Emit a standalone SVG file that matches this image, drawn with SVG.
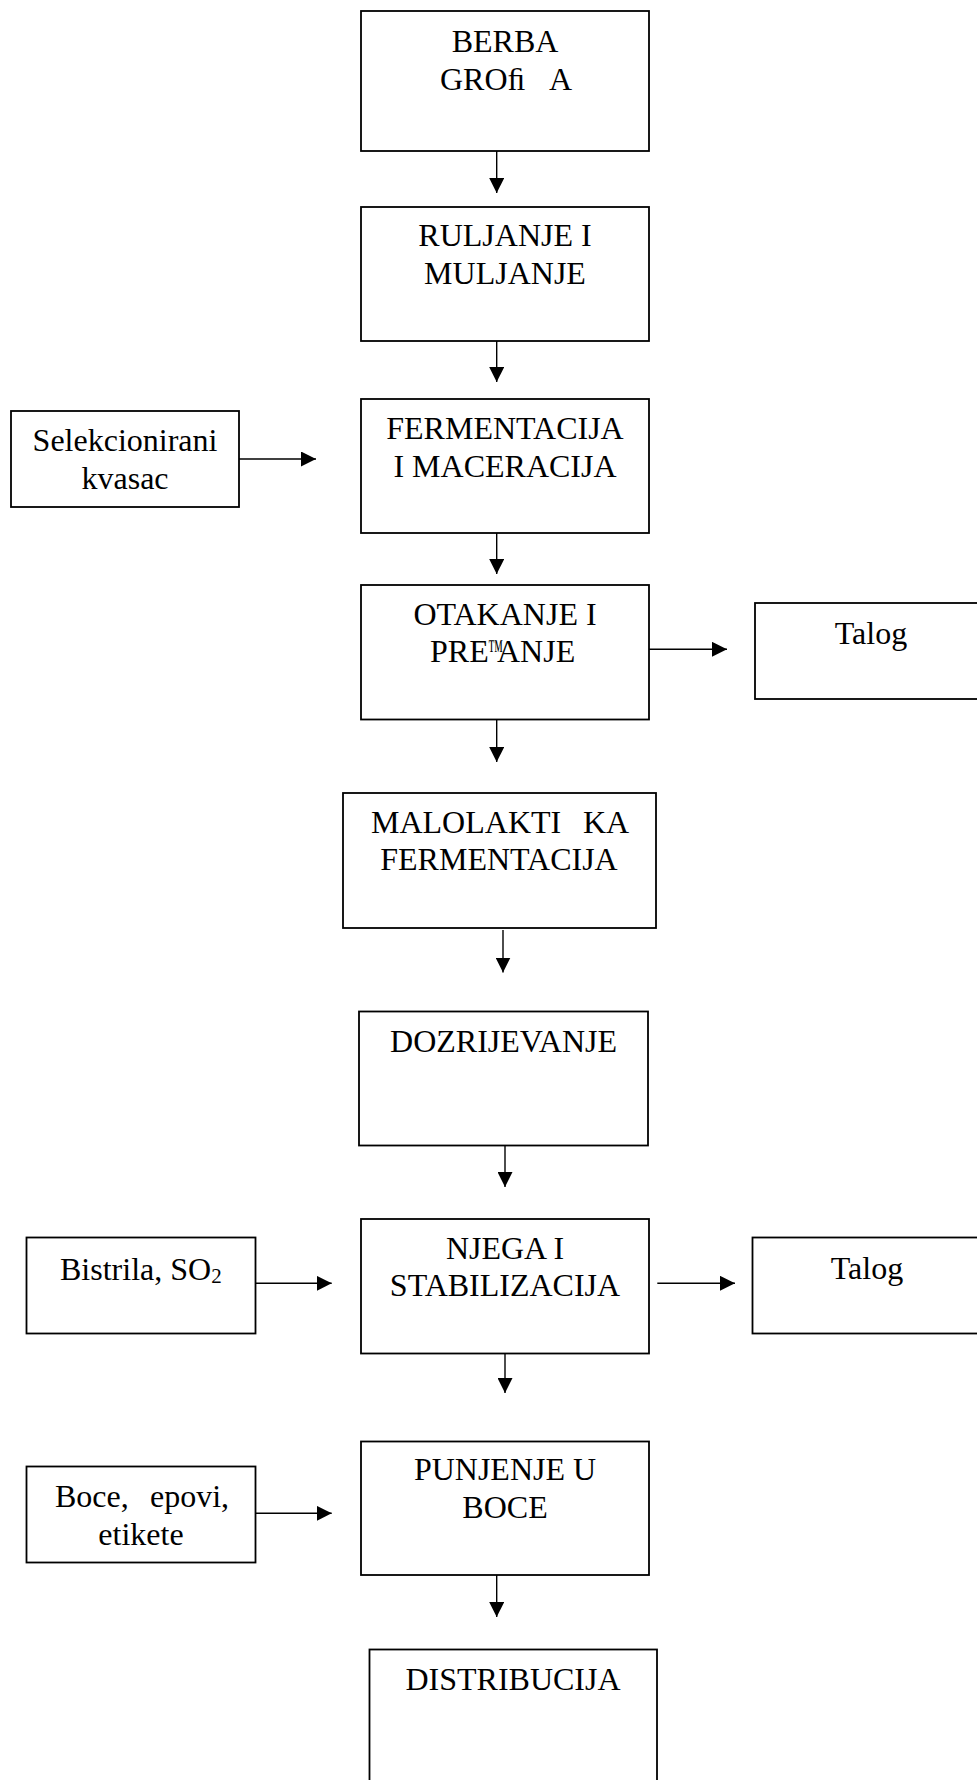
<svg xmlns="http://www.w3.org/2000/svg" width="977" height="1780" viewBox="0 0 977 1780">
<style>
.box{fill:#fff;stroke:#000;stroke-width:1.8}
.t{font-family:"Liberation Serif","Times New Roman",serif;font-size:32px;fill:#000}
.c{text-anchor:middle}
.ln{stroke:#000;stroke-width:1.4;fill:none}
</style>
<defs>
<marker id="ah" markerUnits="userSpaceOnUse" markerWidth="15" markerHeight="15" refX="15" refY="7.5" orient="auto">
<path d="M0,0 L15,7.5 L0,15 z" fill="#000"/>
</marker>
</defs>
<rect width="977" height="1780" fill="#fff"/>
<g id="connectors">
<line class="ln" x1="496.7" y1="151" x2="496.7" y2="193" marker-end="url(#ah)"/>
<line class="ln" x1="496.7" y1="341" x2="496.7" y2="382" marker-end="url(#ah)"/>
<line class="ln" x1="496.7" y1="533" x2="496.7" y2="574" marker-end="url(#ah)"/>
<line class="ln" x1="496.7" y1="720" x2="496.7" y2="762" marker-end="url(#ah)"/>
<line class="ln" x1="503" y1="930" x2="503" y2="972.5" marker-end="url(#ah)"/>
<line class="ln" x1="505" y1="1145.5" x2="505" y2="1187" marker-end="url(#ah)"/>
<line class="ln" x1="505" y1="1352" x2="505" y2="1393" marker-end="url(#ah)"/>
<line class="ln" x1="496.7" y1="1575" x2="496.7" y2="1617" marker-end="url(#ah)"/>
<line class="ln" x1="239" y1="459" x2="316" y2="459" marker-end="url(#ah)"/>
<line class="ln" x1="649" y1="649.3" x2="727" y2="649.3" marker-end="url(#ah)"/>
<line class="ln" x1="255.5" y1="1283.3" x2="331.7" y2="1283.3" marker-end="url(#ah)"/>
<line class="ln" x1="657.3" y1="1283.3" x2="735" y2="1283.3" marker-end="url(#ah)"/>
<line class="ln" x1="255.5" y1="1513.3" x2="331.7" y2="1513.3" marker-end="url(#ah)"/>
</g>
<g id="berba">
<rect class="box" x="361" y="11" width="288" height="140"/>
<text class="t c" x="505" y="52">BERBA</text>
<text class="t" y="89.5"><tspan x="440">GROﬁ</tspan><tspan x="549">A</tspan></text>
</g>
<g id="runjanje">
<rect class="box" x="361" y="207" width="288" height="134"/>
<text class="t c" x="505" y="246">RULJANJE I</text>
<text class="t c" x="505" y="284">MULJANJE</text>
</g>
<g id="fermentacija">
<rect class="box" x="361" y="399" width="288" height="134"/>
<text class="t c" x="505" y="439">FERMENTACIJA</text>
<text class="t c" x="505" y="477">I MACERACIJA</text>
</g>
<g id="selekcionirani">
<rect class="box" x="11" y="411" width="228" height="96"/>
<text class="t c" x="125" y="451">Selekcionirani</text>
<text class="t c" x="125" y="489">kvasac</text>
</g>
<g id="otakanje">
<rect class="box" x="361" y="585" width="288" height="134.5"/>
<text class="t c" x="505" y="625">OTAKANJE I</text>
<text class="t" y="662"><tspan x="430">PRE</tspan><tspan x="488" y="660" style="font-size:30px" textLength="15" lengthAdjust="spacingAndGlyphs">™</tspan><tspan x="497" y="662">ANJE</tspan></text>
</g>
<g id="talog1">
<rect class="box" x="755" y="603" width="232" height="96"/>
<text class="t c" x="871" y="643.5">Talog</text>
</g>
<g id="malolakticka">
<rect class="box" x="343" y="793" width="313" height="135"/>
<text class="t" y="833"><tspan x="371">MALOLAKTI</tspan><tspan x="583">KA</tspan></text>
<text class="t c" x="499" y="870">FERMENTACIJA</text>
</g>
<g id="dozrijevanje">
<rect class="box" x="359" y="1011.5" width="289" height="134"/>
<text class="t c" x="503.5" y="1052">DOZRIJEVANJE</text>
</g>
<g id="njega">
<rect class="box" x="361" y="1219" width="288" height="134.5"/>
<text class="t c" x="505" y="1259">NJEGA I</text>
<text class="t c" x="505" y="1296">STABILIZACIJA</text>
</g>
<g id="bistrila">
<rect class="box" x="26.5" y="1237.5" width="229" height="96"/>
<text class="t" x="60" y="1279.5">Bistrila, SO<tspan style="font-size:21px" dy="3">2</tspan></text>
</g>
<g id="talog2">
<rect class="box" x="752.5" y="1237.5" width="232" height="96"/>
<text class="t c" x="867" y="1279">Talog</text>
</g>
<g id="punjenje">
<rect class="box" x="361" y="1441.5" width="288" height="133.5"/>
<text class="t c" x="505" y="1480">PUNJENJE U</text>
<text class="t c" x="505" y="1518">BOCE</text>
</g>
<g id="boce">
<rect class="box" x="26.5" y="1466.5" width="229" height="96"/>
<text class="t" y="1507"><tspan x="55">Boce,</tspan><tspan x="150">epovi,</tspan></text>
<text class="t c" x="141" y="1545">etikete</text>
</g>
<g id="distribucija">
<rect class="box" x="369.5" y="1649.5" width="287.5" height="160"/>
<text class="t c" x="513" y="1690">DISTRIBUCIJA</text>
</g>
</svg>
